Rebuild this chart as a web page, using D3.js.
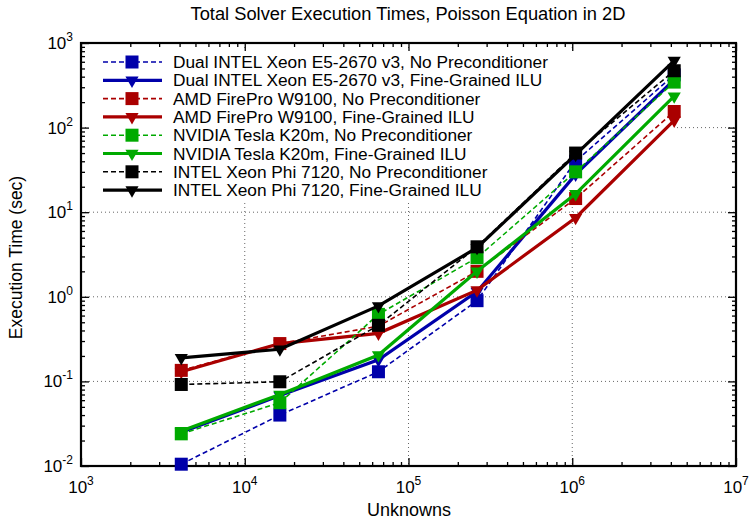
<!DOCTYPE html>
<html><head><meta charset="utf-8">
<script src="https://cdn.jsdelivr.net/npm/d3@7"></script>
<style>body{margin:0;background:#fff}svg{display:block;font-family:"Liberation Sans",Arial,sans-serif}</style>
</head><body><svg id="c" width="751" height="520"></svg>
<script>
const unknowns = [4096, 16384, 65536, 262144, 1048576, 4194304];
const seriesNames = [
  "Dual INTEL Xeon E5-2670 v3, No Preconditioner",
  "Dual INTEL Xeon E5-2670 v3, Fine-Grained ILU",
  "AMD FirePro W9100, No Preconditioner",
  "AMD FirePro W9100, Fine-Grained ILU",
  "NVIDIA Tesla K20m, No Preconditioner",
  "NVIDIA Tesla K20m, Fine-Grained ILU",
  "INTEL Xeon Phi 7120, No Preconditioner",
  "INTEL Xeon Phi 7120, Fine-Grained ILU"
];
const intelNoPrec = [0.0105, 0.040, 0.13, 0.90, 40, 420];
const intelILU    = [0.025, 0.068, 0.18, 1.15, 28, 370];
const amdNoPrec   = [0.135, 0.28, 0.45, 2.0, 14.5, 155];
const amdILU      = [0.13, 0.28, 0.37, 1.2, 8.6, 122];
const nvNoPrec    = [0.024, 0.056, 0.62, 2.9, 30, 345];
const nvILU       = [0.026, 0.07, 0.205, 2.0, 16.5, 235];
const phiNoPrec   = [0.092, 0.099, 0.46, 3.9, 50, 470];
const phiILU      = [0.19, 0.24, 0.78, 3.8, 48, 620];
const seriesValues = [intelNoPrec, intelILU, amdNoPrec, amdILU, nvNoPrec, nvILU, phiNoPrec, phiILU];
const seriesColors = ["#0000aa","#0000aa","#aa0000","#aa0000","#00aa00","#00aa00","#000000","#000000"];
const seriesDashed = [true,false,true,false,true,false,true,false];
const xTickExps = [3,4,5,6,7];
const yTickExps = [-2,-1,0,1,2,3];
const title = "Total Solver Execution Times, Poisson Equation in 2D";
const xLabel = "Unknowns";
const yLabel = "Execution Time (sec)";

const svg = d3.select("#c");
const L = 81, R = 736, T = 43, B = 466;
const x = d3.scaleLog().domain([1e3,1e7]).range([L,R]);
const y = d3.scaleLog().domain([1e-2,1e3]).range([B,T]);

// grid
const g = svg.append("g");
xTickExps.slice(1,-1).forEach(e=>{
  g.append("line").attr("x1",x(10**e)).attr("x2",x(10**e)).attr("y1",T).attr("y2",B)
   .attr("stroke","#666").attr("stroke-width",1).attr("stroke-dasharray","1,3");
});
yTickExps.slice(1,-1).forEach(e=>{
  g.append("line").attr("x1",L).attr("x2",R).attr("y1",y(10**e)).attr("y2",y(10**e))
   .attr("stroke","#666").attr("stroke-width",1).attr("stroke-dasharray","1,3");
});

// legend background
svg.append("rect").attr("x",86).attr("y",48).attr("width",590).attr("height",155).attr("fill","#fff");

// ticks via axes
const minorX = [];
for (let e=3;e<7;e++) for (let k=1;k<10;k++) minorX.push(k*10**e);
minorX.push(1e7);
const minorY = [];
for (let e=-2;e<3;e++) for (let k=1;k<10;k++) minorY.push(k*10**e);
minorY.push(1e3);
function tickLen(v){ return Math.abs(Math.log10(v)-Math.round(Math.log10(v)))<1e-9 ? 8 : 4; }
function drawTicks(axisGen, transform, values){
  const a = svg.append("g").attr("transform",transform).call(axisGen.tickValues(values).tickFormat("").tickSizeOuter(0));
  a.select(".domain").remove();
  a.selectAll(".tick line").attr("stroke","#000").attr("stroke-width",1.3);
  return a;
}
const axB = drawTicks(d3.axisTop(x).tickSizeInner(4), `translate(0,${B})`, minorX);
axB.selectAll(".tick line").attr("y2",d=>-tickLen(d));
const axT = drawTicks(d3.axisBottom(x).tickSizeInner(4), `translate(0,${T})`, minorX);
axT.selectAll(".tick line").attr("y2",d=>tickLen(d));
const axL = drawTicks(d3.axisRight(y).tickSizeInner(4), `translate(${L},0)`, minorY);
axL.selectAll(".tick line").attr("x2",d=>tickLen(d));
const axR = drawTicks(d3.axisLeft(y).tickSizeInner(4), `translate(${R},0)`, minorY);
axR.selectAll(".tick line").attr("x2",d=>-tickLen(d));

// frame
svg.append("rect").attr("x",L).attr("y",T).attr("width",R-L).attr("height",B-T)
  .attr("fill","none").attr("stroke","#000").attr("stroke-width",2.2);

// tick labels
xTickExps.forEach(e=>{
  const t = svg.append("text").attr("x",x(10**e)).attr("y",B+27).attr("text-anchor","middle")
    .attr("font-size",17).attr("fill","#000");
  t.append("tspan").text("10");
  t.append("tspan").attr("dy",-8).attr("font-size",12).text(e);
});
yTickExps.forEach(e=>{
  const t = svg.append("text").attr("x",L-8).attr("y",y(10**e)+6).attr("text-anchor","end")
    .attr("font-size",17).attr("fill","#000");
  t.append("tspan").text("10");
  t.append("tspan").attr("dy",-8).attr("font-size",12).text(e);
});

// titles
svg.append("text").attr("x",408).attr("y",20).attr("text-anchor","middle").attr("font-size",18.3).text(title);
svg.append("text").attr("x",409).attr("y",516).attr("text-anchor","middle").attr("font-size",18).text(xLabel);
svg.append("text").attr("transform",`translate(22,${(T+B)/2+3}) rotate(-90)`).attr("text-anchor","middle").attr("font-size",17.5).text(yLabel);

// series
const line = d3.line().x(d=>x(d[0])).y(d=>y(d[1]));
const sq = 13, tri = d3.symbol().type(d3.symbolTriangle).size(75);
function marker(sel, i, cx, cy){
  if (seriesDashed[i]) {
    sel.append("rect").attr("x",cx-sq/2).attr("y",cy-sq/2).attr("width",sq).attr("height",sq).attr("fill",seriesColors[i]);
  } else {
    sel.append("path").attr("d",tri).attr("transform",`translate(${cx},${cy}) rotate(180)`).attr("fill",seriesColors[i]);
  }
}
const dataG = svg.append("g");
seriesValues.forEach((vals,i)=>{
  const pts = unknowns.map((u,j)=>[u,vals[j]]);
  const sg = dataG.append("g");
  sg.append("path").attr("d",line(pts)).attr("fill","none").attr("stroke",seriesColors[i])
    .attr("stroke-width",seriesDashed[i]?1.6:3.2).attr("stroke-dasharray",seriesDashed[i]?"5,3":null);
  pts.forEach(p=>marker(sg,i,x(p[0]),y(p[1])));
});

// legend
const lg = svg.append("g");
seriesNames.forEach((n,i)=>{
  const yy = 62 + i*18.3;
  lg.append("line").attr("x1",103).attr("x2",162).attr("y1",yy).attr("y2",yy)
    .attr("stroke",seriesColors[i]).attr("stroke-width",seriesDashed[i]?1.6:3.2)
    .attr("stroke-dasharray",seriesDashed[i]?"5,3":null);
  marker(lg,i,132,yy);
  lg.append("text").attr("x",173).attr("y",yy+6).attr("font-size",17.3).text(n);
});
</script></body></html>
